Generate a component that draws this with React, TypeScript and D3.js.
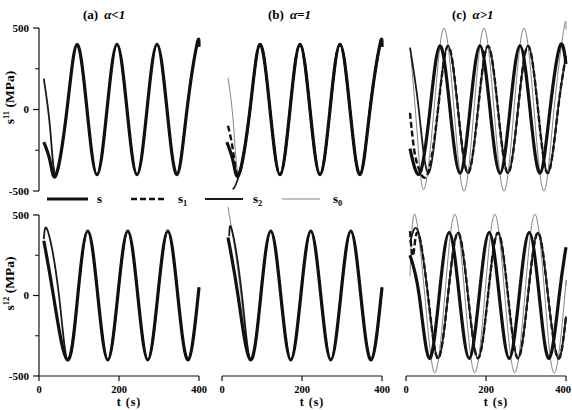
import React from "react";
import * as d3 from "d3";

type Pt = [number, number];

const W = 572;
const H = 410;

const tTicks = [0, 200, 400];
const yTicks = [500, 0, -500];
const yMinor = [250, -250];

const panelTitles = ["(a)", "(b)", "(c)"];
const panelConds = ["α<1", "α=1", "α>1"];
const rowLabels = ["11", "12"];

const legendKeys = ["s", "s1", "s2", "s0"];
const legendSubs = ["", "1", "2", "0"];

// shared steady part, s11 in (a) and (b)
const s11Tail: Pt[] = [
  [70, 0], [95, 400], [120, 0], [145, -400], [170, 0], [195, 400], [220, 0], [245, -400],
  [270, 0], [295, 400], [320, 0], [345, -400], [370, 0], [395, 400], [400, 385],
];
// shared steady part, s12 in (a) and (b)
const s12Tail: Pt[] = [
  [97, 0], [122, 400], [147, 0], [172, -400], [197, 0], [222, 400], [247, 0], [272, -400],
  [297, 0], [322, 400], [347, 0], [373, -400], [400, 50],
];

// (a) alpha < 1
const a11s: Pt[] = [[12, -200], [28, -320], [43, -400], ...s11Tail];
const a11s2: Pt[] = [[12, 190], [28, -120], [43, -400], ...s11Tail];
const a12s: Pt[] = [[12, 340], [36, 0], [71, -400], ...s12Tail];
const a12s2: Pt[] = [[12, 350], [22, 400], [50, 0], [72, -400], ...s12Tail];

// (b) alpha = 1
const b11s: Pt[] = [[12, -200], [28, -320], [43, -395], ...s11Tail];
const b11s1: Pt[] = [[15, -100], [28, -260], [43, -395], ...s11Tail];
const b11s2: Pt[] = [[27, -490], [43, -395], ...s11Tail];
const b11s0: Pt[] = [[15, 196], [29, -100], [43, -395], ...s11Tail];
const b12s: Pt[] = [[15, 360], [40, 0], [71, -400], ...s12Tail];
const b12s2: Pt[] = [[18, 370], [25, 405], [50, 0], [72, -400], ...s12Tail];
const b12s0: Pt[] = [[15, 550], [44, 70], [72, -400], ...s12Tail];

// (c) alpha > 1
const c11s: Pt[] = [
  [10, -240], [35, -390], [60, 0], [85, 390], [110, 0], [135, -390], [160, 0], [185, 390],
  [210, 0], [235, -390], [260, 0], [285, 390], [310, 0], [335, -390], [360, 0], [385, 390], [400, 280],
];
const c11Lag: Pt[] = [
  [80, 0], [105, 390], [130, 0], [155, -390], [180, 0], [205, 390], [230, 0], [255, -390],
  [280, 0], [305, 390], [330, 0], [355, -390], [380, 0], [400, 330],
];
const c11s1: Pt[] = [[10, -20], [20, -240], [33, -370], [55, -390], ...c11Lag];
const c11s2: Pt[] = [[10, 380], [32, 0], [55, -390], ...c11Lag];
const c11s0: Pt[] = [
  [12, 330], [28, -150], [45, -490], [70, 0], [95, 500], [120, 0], [145, -500], [170, 0],
  [195, 500], [220, 0], [245, -500], [270, 0], [295, 500], [320, 0], [345, -500], [370, 0],
  [395, 500], [400, 490],
];
const c12s: Pt[] = [
  [10, 250], [33, 0], [58, -390], [83, 0], [108, 390], [133, 0], [158, -390], [183, 0],
  [208, 390], [233, 0], [258, -390], [283, 0], [308, 390], [333, 0], [358, -390], [383, 0], [400, 300],
];
const c12Lag: Pt[] = [
  [55, 0], [80, -390], [105, 0], [130, 390], [155, 0], [180, -390], [205, 0], [230, 390],
  [255, 0], [280, -390], [305, 0], [330, 390], [355, 0], [380, -390], [400, -130],
];
const c12s1: Pt[] = [[10, 400], [18, 250], [30, 390], ...c12Lag];
const c12s2: Pt[] = [[10, 330], [30, 400], ...c12Lag];
const c12s0: Pt[] = [
  [10, 120], [22, 505], [47, 0], [72, -480], [97, 0], [122, 505], [147, 0], [172, -480],
  [197, 0], [222, 505], [247, 0], [272, -480], [297, 0], [322, 505], [347, 0], [372, -480],
  [397, 0], [400, 60],
];

type Series = { s0?: Pt[]; s2?: Pt[]; s1?: Pt[]; s?: Pt[] };

const panels: Series[][] = [
  [
    { s2: a11s2, s: a11s },
    { s0: b11s0, s2: b11s2, s1: b11s1, s: b11s },
    { s0: c11s0, s2: c11s2, s1: c11s1, s: c11s },
  ],
  [
    { s2: a12s2, s: a12s },
    { s0: b12s0, s2: b12s2, s: b12s },
    { s0: c12s0, s2: c12s2, s1: c12s1, s: c12s },
  ],
];

const styles: Record<string, { w: number; c: string; dash?: string }> = {
  s: { w: 3.2, c: "#111" },
  s1: { w: 2.4, c: "#111", dash: "6,3" },
  s2: { w: 1.8, c: "#1a1a1a" },
  s0: { w: 0.8, c: "#666" },
};

const cols = [
  { x0: 39, x1: 199, tx: 83 },
  { x0: 222, x1: 382, tx: 268 },
  { x0: 406, x1: 566, tx: 452 },
];
const rows = [
  { top: 28, bot: 191 },
  { top: 215, bot: 376 },
];

const font = "'Liberation Serif', 'Times New Roman', serif";

export default function App() {
  const legendX = [
    { x0: 47, x1: 88, tx: 97 },
    { x0: 131, x1: 167, tx: 178 },
    { x0: 205, x1: 243, tx: 253 },
    { x0: 282, x1: 320, tx: 333 },
  ];

  return (
    <svg
      width={W}
      height={H}
      style={{ position: "absolute", left: 0, top: 0, background: "#fff" }}
      fontFamily={font}
      fontWeight="bold"
    >
      {cols.map((c, ci) => (
        <text key={"t" + ci} x={c.tx} y={19} fontSize={13}>
          {panelTitles[ci]}
          <tspan dx={6} fontStyle="italic">{panelConds[ci]}</tspan>
        </text>
      ))}

      {rows.map((r, ri) => {
        const y = d3.scaleLinear().domain([-500, 500]).range([r.bot, r.top]);
        const ax = cols[0].x0;
        return (
          <g key={"r" + ri}>
            <line x1={ax} x2={ax} y1={r.top} y2={r.bot} stroke="#111" strokeWidth={1.2} />
            {yTicks.map((v) => (
              <g key={v}>
                <line x1={ax - 6} x2={ax} y1={y(v)} y2={y(v)} stroke="#111" strokeWidth={1.2} />
                <text x={29} y={y(v)} dy="0.35em" textAnchor="end" fontSize={11}>
                  {v}
                </text>
              </g>
            ))}
            {yMinor.map((v) => (
              <line key={v} x1={ax - 4} x2={ax} y1={y(v)} y2={y(v)} stroke="#111" strokeWidth={1} />
            ))}
            <text
              transform={`translate(14,${(r.top + r.bot) / 2 - 12}) rotate(-90)`}
              textAnchor="middle"
              fontSize={13.5}
            >
              s<tspan fontSize={8.5} dy={-5}>{rowLabels[ri]}</tspan>
              <tspan dy={5}> (MPa)</tspan>
            </text>

            {cols.map((c, ci) => {
              const x = d3.scaleLinear().domain([0, 400]).range([c.x0, c.x1]);
              const line = d3
                .line<Pt>()
                .x((d) => x(d[0]))
                .y((d) => y(d[1]))
                .curve(d3.curveNatural);
              const ser = panels[ri][ci];
              return (
                <g key={"p" + ci}>
                  {(["s0", "s1", "s2", "s"] as const).map((k) =>
                    ser[k] ? (
                      <path
                        key={k}
                        d={line(ser[k] as Pt[]) || ""}
                        fill="none"
                        stroke={styles[k].c}
                        strokeWidth={styles[k].w}
                        strokeDasharray={styles[k].dash}
                        strokeLinejoin="round"
                      />
                    ) : null
                  )}
                  {ri === 1 && (
                    <g>
                      <line x1={c.x0} x2={c.x1} y1={r.bot} y2={r.bot} stroke="#111" strokeWidth={1.2} />
                      {tTicks.map((t) => (
                        <g key={t}>
                          <line x1={x(t)} x2={x(t)} y1={r.bot} y2={r.bot + 5} stroke="#111" strokeWidth={1.2} />
                          <text
                            x={ci === 2 && t === 400 ? W - 1 : x(t)}
                            y={393}
                            textAnchor={ci === 2 && t === 400 ? "end" : "middle"}
                            fontSize={10.5}
                          >
                            {t}
                          </text>
                        </g>
                      ))}
                      <text x={(c.x0 + c.x1) / 2 + 10} y={406} textAnchor="middle" fontSize={12} letterSpacing={1}>
                        t (s)
                      </text>
                    </g>
                  )}
                </g>
              );
            })}
          </g>
        );
      })}

      {legendKeys.map((k, i) => (
        <g key={k}>
          <line
            x1={legendX[i].x0}
            x2={legendX[i].x1}
            y1={199}
            y2={199}
            stroke={styles[k].c}
            strokeWidth={styles[k].w}
            strokeDasharray={styles[k].dash}
          />
          <text x={legendX[i].tx} y={203} fontSize={13}>
            s
            {legendSubs[i] && (
              <tspan fontSize={8.5} dy={3}>
                {legendSubs[i]}
              </tspan>
            )}
          </text>
        </g>
      ))}
    </svg>
  );
}
